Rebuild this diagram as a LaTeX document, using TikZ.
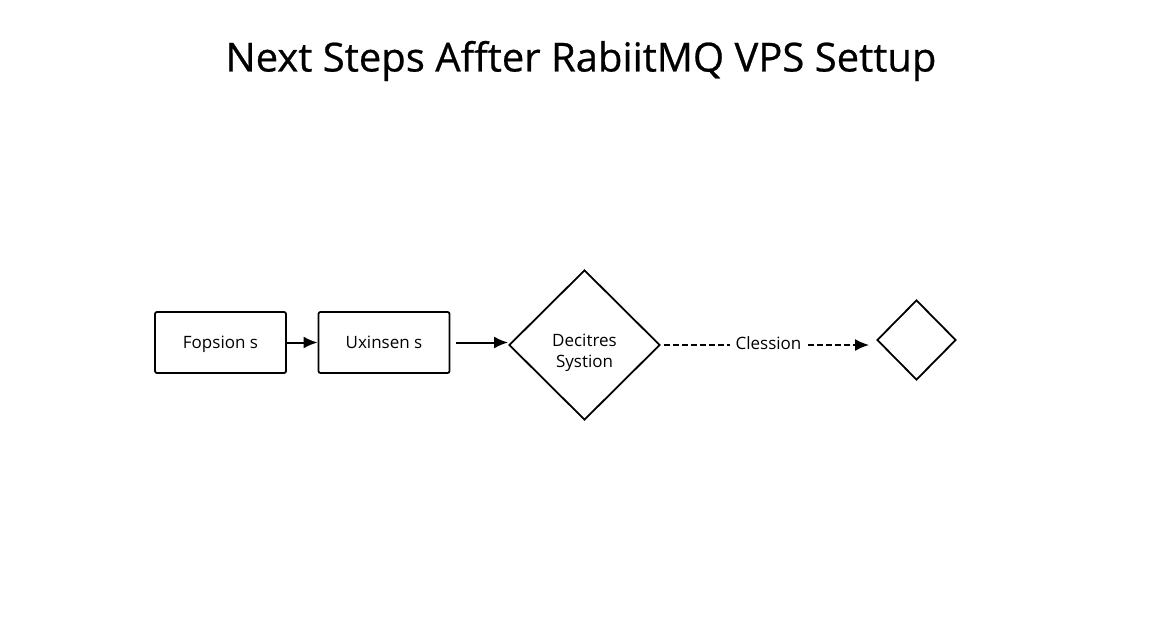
\documentclass[tikz,border=0pt]{standalone}
\usepackage{fontspec}
\setmainfont{Open Sans}
\usetikzlibrary{shapes.geometric,arrows.meta}
\begin{document}
\begin{tikzpicture}[x=1pt,y=-1pt,
  box/.style={draw, line width=1.8pt, rounded corners=2pt, minimum width=131pt, minimum height=61pt, inner sep=0pt, text height=14pt, text depth=3pt, font=\fontsize{17}{20}\selectfont},
  dia/.style={draw, diamond, line width=1.8pt, inner sep=0pt, aspect=1},
  conn/.style={line width=2pt, -{Latex[length=14pt,width=12pt]}},
  lbl/.style={font=\fontsize{17}{21}\selectfont}]
\useasboundingbox (0,0) rectangle (1152,640);
\node[font=\fontsize{40}{46}\selectfont\addfontfeature{FakeBold=0.6}] (title) at (581,61) {Next Steps Affter RabiitMQ VPS Settup};
\node[box] (b1) at (220.5,342.5) {Fopsion s};
\node[box] (b2) at (384,342.5) {Uxinsen s};
\node[dia, minimum width=151pt, minimum height=150pt] (d1) at (584.5,345) {};
\node[lbl, align=center] (d1t) at (584.5,353) {Decitres\\Systion};
\node[dia, minimum width=79pt, minimum height=80pt] (d2) at (916.5,340) {};
\draw[conn] (b1.east) -- (b2.west);
\draw[conn, shorten <=6pt] (b2.east) -- (b2.east -| d1.west);
\draw[conn, dash pattern=on 6pt off 3pt, shorten >=7pt, shorten <=3pt] (d1.east) -- node[lbl, fill=white, inner xsep=6pt, yshift=2pt] (cl) {Clession} (d1.east -| d2.west);
\end{tikzpicture}
\end{document}
